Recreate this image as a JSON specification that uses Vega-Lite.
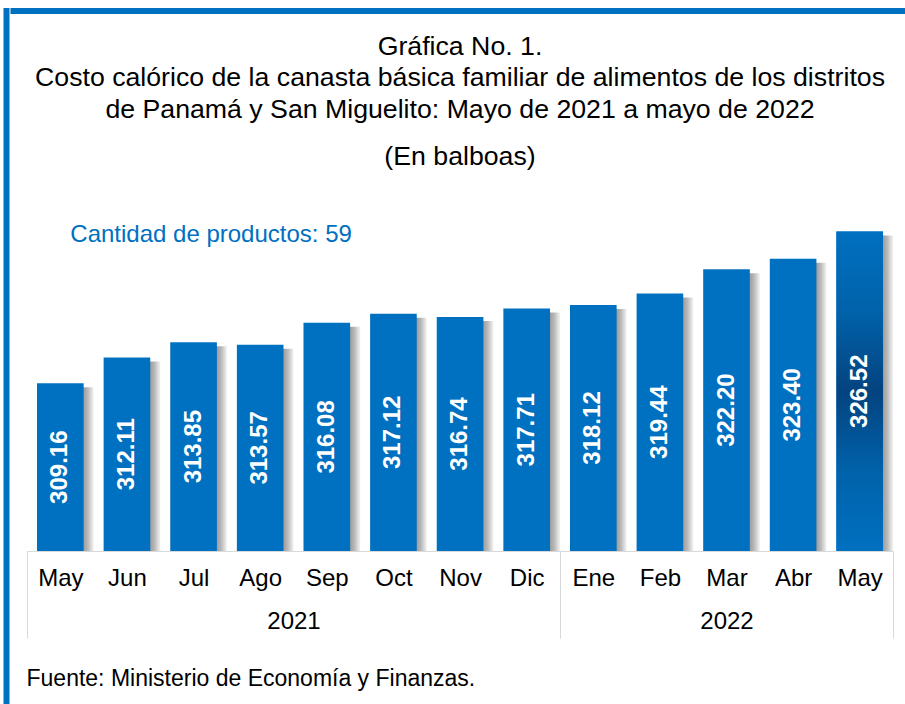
{
  "$schema": "https://vega.github.io/schema/vega-lite/v6.json",
  "background": "white",
  "padding": {"left": 3.5, "top": 8, "right": 0, "bottom": 0},
  "config": {"font": "Liberation Sans", "view": {"stroke": null}},
  "spacing": 0,
  "hconcat": [
    {
      "data": {"values": []},
      "mark": "point",
      "width": 0.01,
      "height": 720,
      "view": {"stroke": "#0070C0", "strokeWidth": 6, "fill": null}
    },
    {
      "spacing": 18,
      "vconcat": [
        {
          "data": {"values": []},
          "mark": "point",
          "width": 910,
          "height": 0.01,
          "view": {"stroke": "#0070C0", "strokeWidth": 6, "fill": null}
        },
        {
          "spacing": 11.5,
          "hconcat": [
            {"data": {"values": []}, "mark": "point", "width": 0.01, "height": 0.01},
            {
              "bounds": "flush",
              "spacing": 0,
              "title": {
                "text": [
                  "Gráfica No.  1.",
                  "Costo calórico de la canasta básica familiar de alimentos de los distritos",
                  "de Panamá y San Miguelito: Mayo de 2021 a mayo de 2022"
                ],
                "subtitle": "(En balboas)",
                "anchor": "middle",
                "fontSize": 26.7,
                "fontWeight": "normal",
                "color": "black",
                "lineHeight": 31.5,
                "subtitleFontSize": 26.7,
                "subtitleColor": "black",
                "subtitlePadding": 21,
                "offset": 30
              },
              "hconcat": [
                {
                  "width": 533,
                  "height": 350,
                  "data": {"values": [
                    {"mes": "May", "valor": 309.16},
                    {"mes": "Jun", "valor": 312.11},
                    {"mes": "Jul", "valor": 313.85},
                    {"mes": "Ago", "valor": 313.57},
                    {"mes": "Sep", "valor": 316.08},
                    {"mes": "Oct", "valor": 317.12},
                    {"mes": "Nov", "valor": 316.74},
                    {"mes": "Dic", "valor": 317.71}
                  ]},
                  "title": {
                    "text": "Fuente: Ministerio de Economía y Finanzas.",
                    "orient": "bottom",
                    "anchor": "start",
                    "fontSize": 23,
                    "fontWeight": "normal",
                    "color": "black",
                    "offset": 29
                  },
                  "encoding": {
                    "x": {
                      "field": "mes",
                      "type": "nominal",
                      "sort": null,
                      "scale": {"domain": ["May", "Jun", "Jul", "Ago", "Sep", "Oct", "Nov", "Dic"], "paddingInner": 0, "paddingOuter": 0},
                      "axis": {
                        "title": "2021",
                        "labelAngle": 0,
                        "labelFontSize": 24,
                        "labelColor": "black",
                        "labelPadding": -72,
                        "labelOverlap": false,
                        "domainColor": "#d9d9d9",
                        "domainWidth": 1,
                        "tickBand": "extent",
                        "tickSize": 87,
                        "tickWidth": 1,
                        "tickColor": {"condition": {"test": "!datum.value || datum.value == 'Dic'", "value": "#d9d9d9"}, "value": "transparent"},
                        "titleFontSize": 24,
                        "titleFontWeight": "normal",
                        "titleColor": "black",
                        "titlePadding": -29,
                        "grid": false
                      }
                    }
                  },
                  "layer": [
                    {
                      "mark": {
                        "type": "bar", "width": {"band": 0.7}, "xOffset": 10, "yOffset": 4, "clip": true,
                        "color": {"gradient": "linear", "x1": 0, "y1": 0, "x2": 1, "y2": 0,
                          "stops": [{"offset": 0, "color": "#9a9a9a"}, {"offset": 0.78, "color": "#9c9c9c"}, {"offset": 0.88, "color": "#bababa"}, {"offset": 0.95, "color": "#dcdcdc"}, {"offset": 1, "color": "#f2f2f2"}]}
                      },
                      "encoding": {
                        "y": {"field": "valor", "type": "quantitative", "scale": {"domain": [290, 330], "zero": false, "nice": false}, "axis": null},
                        "y2": {"datum": 290}
                      }
                    },
                    {
                      "mark": {"type": "bar", "width": {"band": 0.7}, "color": "#0070C0"},
                      "encoding": {
                        "y": {"field": "valor", "type": "quantitative", "scale": {"domain": [290, 330], "zero": false, "nice": false}, "axis": null},
                        "y2": {"datum": 290}
                      }
                    },
                    {
                      "mark": {"type": "text", "angle": 270, "color": "white", "fontWeight": "bold", "fontSize": 24, "align": "center", "baseline": "middle"},
                      "encoding": {
                        "y": {"field": "valor", "type": "quantitative", "scale": {"domain": [290, 370], "zero": false, "nice": false}, "axis": null},
                        "text": {"field": "valor", "type": "quantitative", "format": ".2f"}
                      }
                    },
                    {
                      "data": {"values": [{"nota": "Cantidad de productos: 59"}]},
                      "mark": {"type": "text", "align": "left", "baseline": "middle", "dx": 10, "fontSize": 24, "color": "#0070C0"},
                      "encoding": {
                        "x": {"datum": "May"},
                        "y": {"datum": 326.1, "type": "quantitative", "scale": {"domain": [290, 330], "zero": false, "nice": false}, "axis": null},
                        "text": {"field": "nota"}
                      }
                    }
                  ],
                  "resolve": {"scale": {"y": "independent"}}
                },
                {
                  "width": 333,
                  "height": 350,
                  "data": {"values": [
                    {"mes": "Ene", "valor": 318.12},
                    {"mes": "Feb", "valor": 319.44},
                    {"mes": "Mar", "valor": 322.20},
                    {"mes": "Abr", "valor": 323.40},
                    {"mes": "May", "valor": 326.52}
                  ]},
                  "encoding": {
                    "x": {
                      "field": "mes",
                      "type": "nominal",
                      "sort": null,
                      "scale": {"domain": ["Ene", "Feb", "Mar", "Abr", "May"], "paddingInner": 0, "paddingOuter": 0},
                      "axis": {
                        "title": "2022",
                        "labelAngle": 0,
                        "labelFontSize": 24,
                        "labelColor": "black",
                        "labelPadding": -72,
                        "labelOverlap": false,
                        "domainColor": "#d9d9d9",
                        "domainWidth": 1,
                        "tickBand": "extent",
                        "tickSize": 87,
                        "tickWidth": 1,
                        "tickColor": {"condition": {"test": "!datum.value || datum.value == 'May'", "value": "#d9d9d9"}, "value": "transparent"},
                        "titleFontSize": 24,
                        "titleFontWeight": "normal",
                        "titleColor": "black",
                        "titlePadding": -29,
                        "grid": false
                      }
                    }
                  },
                  "layer": [
                    {
                      "mark": {
                        "type": "bar", "width": {"band": 0.7}, "xOffset": 10, "yOffset": 4, "clip": true,
                        "color": {"gradient": "linear", "x1": 0, "y1": 0, "x2": 1, "y2": 0,
                          "stops": [{"offset": 0, "color": "#9a9a9a"}, {"offset": 0.78, "color": "#9c9c9c"}, {"offset": 0.88, "color": "#bababa"}, {"offset": 0.95, "color": "#dcdcdc"}, {"offset": 1, "color": "#f2f2f2"}]}
                      },
                      "encoding": {
                        "y": {"field": "valor", "type": "quantitative", "scale": {"domain": [290, 330], "zero": false, "nice": false}, "axis": null},
                        "y2": {"datum": 290}
                      }
                    },
                    {
                      "mark": {"type": "bar", "width": {"band": 0.7}, "color": "#0070C0"},
                      "encoding": {
                        "y": {"field": "valor", "type": "quantitative", "scale": {"domain": [290, 330], "zero": false, "nice": false}, "axis": null},
                        "y2": {"datum": 290}
                      }
                    },
                    {
                      "transform": [{"filter": "datum.mes == 'May'"}],
                      "mark": {
                        "type": "bar", "width": {"band": 0.7},
                        "color": {"gradient": "linear", "x1": 0, "y1": 0, "x2": 0, "y2": 1,
                          "stops": [{"offset": 0, "color": "#0070C0"}, {"offset": 0.25, "color": "#0062aa"}, {"offset": 0.5, "color": "#04437f"}, {"offset": 0.75, "color": "#0062aa"}, {"offset": 1, "color": "#0070C0"}]}
                      },
                      "encoding": {
                        "y": {"field": "valor", "type": "quantitative", "scale": {"domain": [290, 330], "zero": false, "nice": false}, "axis": null},
                        "y2": {"datum": 290}
                      }
                    },
                    {
                      "mark": {"type": "text", "angle": 270, "color": "white", "fontWeight": "bold", "fontSize": 24, "align": "center", "baseline": "middle"},
                      "encoding": {
                        "y": {"field": "valor", "type": "quantitative", "scale": {"domain": [290, 370], "zero": false, "nice": false}, "axis": null},
                        "text": {"field": "valor", "type": "quantitative", "format": ".2f"}
                      }
                    }
                  ],
                  "resolve": {"scale": {"y": "independent"}}
                }
              ]
            }
          ]
        }
      ]
    }
  ]
}
